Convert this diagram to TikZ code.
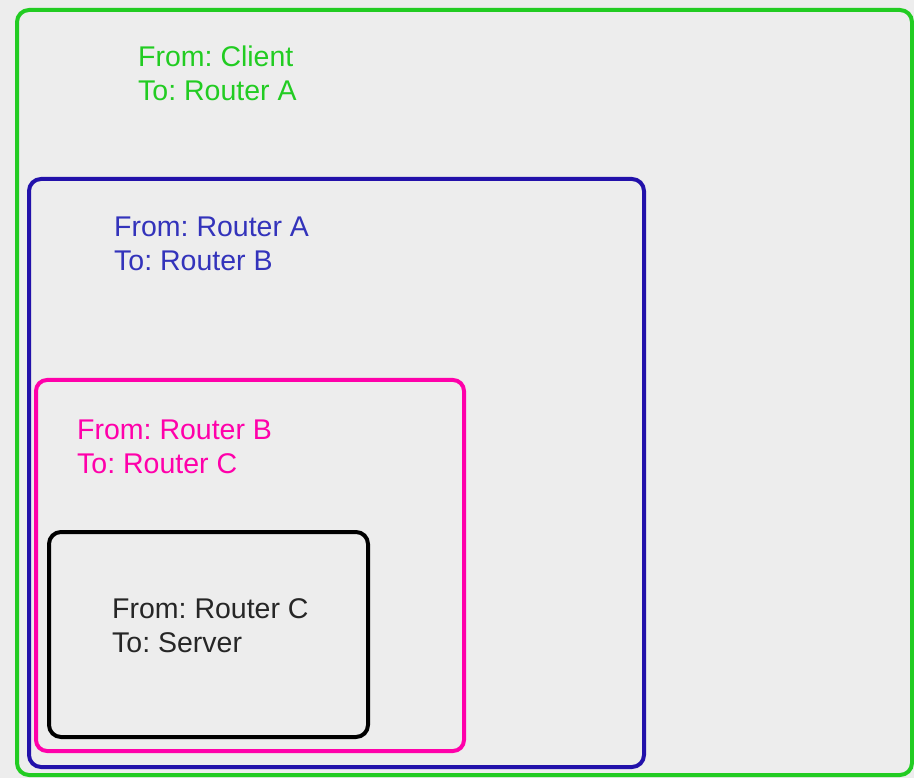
\documentclass[tikz,border=0pt]{standalone}
\usepackage{fontspec}
\setmainfont{Liberation Sans}
\frenchspacing
\definecolor{bgc}{RGB}{237,237,237}
\definecolor{cgreen}{RGB}{34,204,34}
\definecolor{cblue}{RGB}{34,17,170}
\definecolor{cbluet}{RGB}{51,51,187}
\definecolor{cpink}{RGB}{255,0,170}
\tikzset{
  frame/.style={line width=4pt, rounded corners=12pt},
  lbl/.style={anchor=base west, inner sep=0pt, align=left, font=\fontsize{28.5}{34}\selectfont\frenchspacing},
}
\begin{document}
\begin{tikzpicture}[x=1pt,y=-1pt]
\fill[bgc] (0,0) rectangle (914,778);
\useasboundingbox (0,0) rectangle (914,778);
\draw[frame, cgreen] (17,10) rectangle (912,775);
\draw[frame, cblue] (29,179) rectangle (644,767);
\draw[frame, cpink, rounded corners=11pt] (36,380) rectangle (464,751);
\draw[frame, black] (49,532) rectangle (368,737);
\node[lbl, text=cgreen] (l1) at (138,101) {From: Client\\To: Router A};
\node[lbl, text=cbluet] (l2) at (114,271) {From: Router A\\To: Router B};
\node[lbl, text=cpink] (l3) at (77,473) {From: Router B\\To: Router C};
\node[lbl, text=black!85] (l4) at (112,652) {From: Router C\\To: Server};
\end{tikzpicture}
\end{document}
